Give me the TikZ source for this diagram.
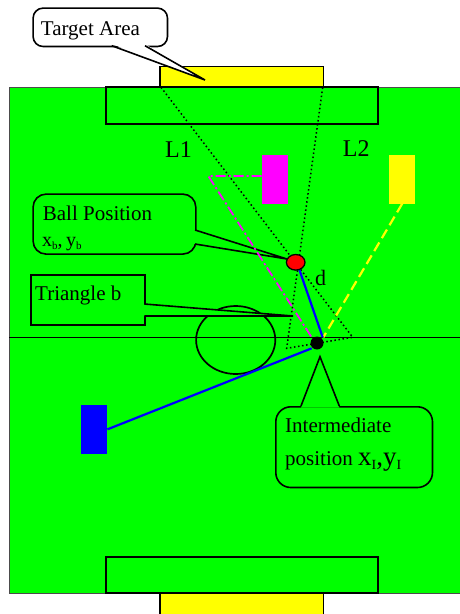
\documentclass[tikz,border=0pt]{standalone}
\usepackage{fontspec}
\setmainfont{Liberation Serif}
\usetikzlibrary{shapes.geometric}
\definecolor{pitch}{RGB}{0,255,0}
\definecolor{goalyel}{RGB}{255,255,0}
\definecolor{mag}{RGB}{255,0,255}
\tikzset{
  mark line/.style={draw=black, line width=1.7pt},
  boxline/.style={draw=black, line width=1.6pt},
  txt/.style={inner sep=0pt, anchor=base west, font=\fontsize{21}{25}\selectfont},
  aimline/.style={line width=1.5pt, dash pattern=on 1.5pt off 2.6pt},
  emptybox/.style={boxline, inner sep=0pt, anchor=north west},
}
\begin{document}
\begin{tikzpicture}[x=1pt,y=-1pt]
\clip (0,0) rectangle (460,614);
\fill[white] (0,0) rectangle (460,614);

% pitch
\draw[fill=pitch, draw=black!70, line width=1.2pt] (9.3,87.3) rectangle (470,593.3);
% goals
\draw[fill=goalyel, line width=1.3pt] (160,66.7) rectangle (323.3,87.3);
\draw[fill=goalyel, line width=1.3pt] (160,593.3) rectangle (323.3,620);
% penalty boxes
\draw[mark line] (106,87.3) rectangle (377.7,124);
\draw[mark line] (106,556.7) rectangle (377.7,593.3);
% halfway line and centre circle
\draw[mark line] (9.3,337.5) -- (470,337.5);
\draw[mark line] (235.7,340) ellipse [x radius=39.6, y radius=34];

% key points
\coordinate (goalL) at (161,87.3);
\coordinate (goalR) at (322.7,87.3);
\coordinate (L1end) at (352.7,337.3);
\coordinate (L2end) at (286.7,348.3);
\coordinate (tgtTip) at (205,80);
\coordinate (ballTip) at (287,259);
\coordinate (triTip) at (293,316);
\coordinate (midTip) at (320,356.7);

% callout: Target Area
\node[emptybox, fill=white, rounded corners=10pt, minimum width=134.4pt, minimum height=38.4pt] (tgtBox) at (32.3,7.3) {};
\fill[white] (111.7,44) -- (tgtTip) -- (145,44) -- cycle;
\draw[boxline] (111.7,45.7) -- (tgtTip) -- (145,45.7);
\node[txt] (tgtText) at (40.7,35) {Target Area};

% callout: Ball Position
\node[emptybox, rounded corners=13pt, minimum width=162.7pt, minimum height=60pt] (ballBox) at (32.3,193.3) {};
\fill[pitch] (193.5,230) -- (ballTip) -- (193.5,244) -- cycle;
\draw[boxline] (195,230) -- (ballTip) -- (195,244);
\node[txt] (ballText) at (42.7,220) {Ball Position};
\node[txt, font=\fontsize{20}{22}\selectfont] (ballXY) at (42,246.7) {x\raisebox{-3pt}{\fontsize{11}{12}\selectfont b},\,y\raisebox{-3pt}{\fontsize{11}{12}\selectfont b}};

% callout: Triangle b
\node[emptybox, minimum width=114.3pt, minimum height=50pt] (triBox) at (30,274.3) {};
\fill[pitch] (142.8,304) -- (triTip) -- (142.8,316) -- cycle;
\draw[boxline] (144.3,304) -- (triTip) -- (144.3,316);
\node[txt] (triText) at (35,300) {Triangle b};

% callout: Intermediate position
\node[emptybox, rounded corners=15pt, minimum width=156.7pt, minimum height=80.7pt] (midBox) at (275,406) {};
\fill[pitch] (301,407.5) -- (midTip) -- (339.3,407.5) -- cycle;
\draw[boxline] (301,406) -- (midTip) -- (339.3,406);
\node[txt] (midText1) at (285,432.7) {Intermediate};
\node[txt] (midText2) at (285,465) {position {\fontsize{27}{30}\selectfont x\raisebox{-4pt}{\fontsize{14}{16}\selectfont I},y\raisebox{-4pt}{\fontsize{14}{16}\selectfont I}}};

% shooting lines L1, L2 and triangle base
\draw[aimline] (goalL) -- (L1end) -- (L2end) -- (goalR);

% players
\node[fill=mag, minimum width=26.3pt, minimum height=49pt, inner sep=0pt, anchor=north west] (magP) at (261.7,154.3) {};
\node[fill=goalyel, minimum width=26pt, minimum height=49pt, inner sep=0pt, anchor=north west] (yelP) at (389,154.3) {};
\node[fill=blue, minimum width=26pt, minimum height=48.3pt, inner sep=0pt, anchor=north west] (blueP) at (81,405) {};

% player runs
\coordinate (magCorner) at (208.3,176);
\coordinate (magEnd) at (312.3,338.3);
\coordinate (yelEnd) at (323.3,337.3);
\draw[mag, line width=1.7pt, dash pattern=on 10pt off 3pt on 2pt off 3pt] (magP.west |- magCorner) -- (magCorner) -- (magEnd);
\draw[goalyel, line width=2.2pt, dash pattern=on 10pt off 5pt] (yelP.south) -- (yelEnd);

% passes
\coordinate (bTop) at (294.3,255);
\coordinate (dTop) at (322.7,337.3);
\draw[blue, line width=2.2pt] (bTop) -- (dTop);
\draw[blue, line width=2.2pt] (311.7,348.3) -- (blueP.east);

% ball and intermediate point
\node[ellipse, draw=black, line width=1.3pt, fill=red, minimum width=18.6pt, minimum height=15.6pt, inner sep=0pt] (ball) at (295.7,262.3) {};
\node[circle, fill=black, minimum size=13pt, inner sep=0pt] (dot) at (317,343) {};

% labels
\node[txt, font=\fontsize{24}{26}\selectfont] (lblL1) at (165,157) {L1};
\node[txt, font=\fontsize{24}{26}\selectfont] (lblL2) at (342.7,156.7) {L2};
\node[txt, font=\fontsize{22}{24}\selectfont] (lblD) at (315,285) {d};
\end{tikzpicture}
\end{document}
